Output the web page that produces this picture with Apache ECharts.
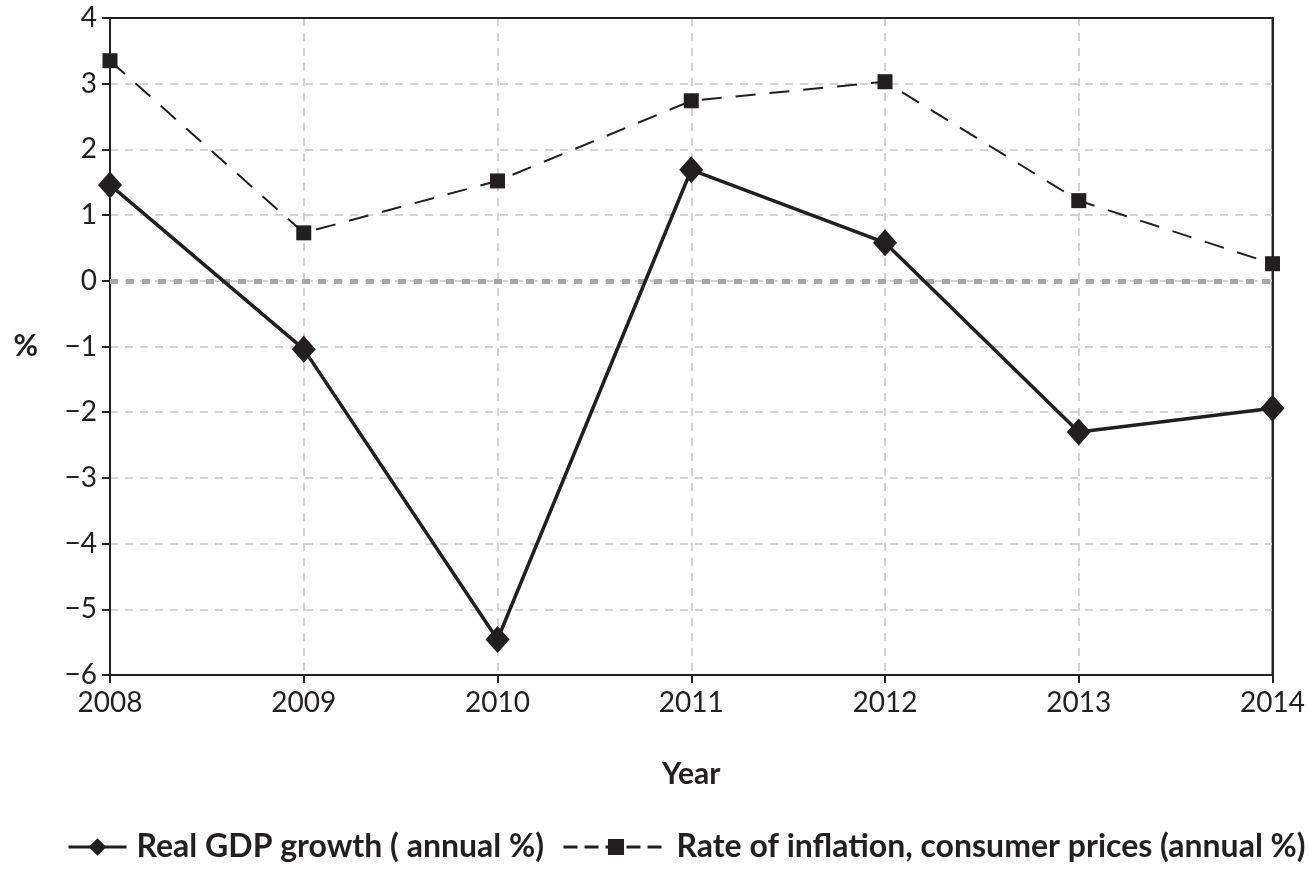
<!DOCTYPE html>
<html>
<head>
<meta charset="utf-8">
<script src="https://cdn.jsdelivr.net/npm/echarts@6/dist/echarts.min.js"></script>
<style>
html,body{margin:0;padding:0;background:#fff;}
#main{width:1308px;height:870px;}
</style>
</head>
<body>
<div id="main"></div>
<script>
const years = ['2008','2009','2010','2011','2012','2013','2014'];
const gdpGrowth = [1.46, -1.04, -5.46, 1.69, 0.58, -2.30, -1.94];
const inflation = [3.35, 0.73, 1.52, 2.74, 3.03, 1.22, 0.26];
const seriesNames = ['Real GDP growth ( annual %)', 'Rate of inflation, consumer prices (annual %)'];

const FONT = 'Lato';
const INK = '#231f20';
const GRID_LINE = {show: true, showMinLine: false, showMaxLine: false, lineStyle: {color: '#d1d3d4', width: 2, type: [8, 7]}};
const chart = echarts.init(document.getElementById('main'));
chart.setOption({
  animation: false,
  backgroundColor: '#fff',
  grid: {left: 110, right: 32, top: 18, bottom: 195, show: true, borderColor: INK, borderWidth: 2, backgroundColor: 'transparent'},
  xAxis: [{
    type: 'category', data: years, boundaryGap: false,
    name: 'Year', nameLocation: 'middle', nameGap: 84,
    nameTextStyle: {fontFamily: FONT, fontWeight: 'bold', fontSize: 30, color: INK},
    axisLine: {onZero: false, lineStyle: {color: INK, width: 2}},
    axisTick: {show: true, length: 8, lineStyle: {color: INK, width: 2}},
    axisLabel: {fontFamily: FONT, fontSize: 28, color: INK, margin: 14},
    splitLine: GRID_LINE
  }, {
    type: 'category', data: years, boundaryGap: false, position: 'top',
    axisLine: {onZero: false, lineStyle: {color: INK, width: 2}},
    axisTick: {show: false}, axisLabel: {show: false}, splitLine: {show: false}
  }],
  yAxis: [{
    type: 'value', min: -6, max: 4, interval: 1,
    name: '%', nameLocation: 'middle', nameGap: 72, nameRotate: 0,
    nameTextStyle: {fontFamily: FONT, fontWeight: 'bold', fontSize: 30, color: INK},
    axisLine: {show: true, onZero: false, lineStyle: {color: INK, width: 2}},
    axisTick: {show: true, length: 8, lineStyle: {color: INK, width: 2}},
    axisLabel: {fontFamily: FONT, fontSize: 28, color: INK, margin: 13,
      formatter: v => (v < 0 ? '\u2212' + Math.abs(v) : String(v))},
    splitLine: GRID_LINE
  }, {
    type: 'value', min: -6, max: 4, interval: 1, position: 'right',
    axisLine: {show: true, onZero: false, lineStyle: {color: INK, width: 2}},
    axisTick: {show: false}, axisLabel: {show: false}, splitLine: {show: false}
  }],
  legend: [{
    top: 826, left: 62, itemWidth: 58, itemHeight: 22, orient: 'horizontal',
    textStyle: {fontFamily: FONT, fontWeight: 'bold', fontSize: 32, color: INK, padding: [0, 0, 0, 5]},
    data: [{name: seriesNames[0], lineStyle: {width: 3, type: 'solid'}}]
  }, {
    top: 826, left: 557, itemWidth: 105, itemHeight: 20, orient: 'horizontal',
    textStyle: {fontFamily: FONT, fontWeight: 'bold', fontSize: 32, color: INK, padding: [0, 0, 0, 3]},
    data: [{name: seriesNames[1], lineStyle: {width: 3, type: [14, 7]}}]
  }],
  series: [
    {
      name: seriesNames[0], type: 'line', data: gdpGrowth,
      symbol: 'diamond', symbolSize: [24, 27],
      itemStyle: {color: INK},
      lineStyle: {color: INK, width: 3.5},
      z: 5,
      markLine: {
        silent: true, symbol: 'none', label: {show: false},
        lineStyle: {color: '#a7a9ac', width: 5, type: [8, 8]},
        emphasis: {disabled: true},
        data: [{yAxis: 0}], z: 1
      }
    },
    {
      name: seriesNames[1], type: 'line', data: inflation,
      symbol: 'rect', symbolSize: 15,
      itemStyle: {color: INK},
      lineStyle: {color: INK, width: 2, type: [20, 14]},
      z: 4
    }
  ]
});
</script>
</body>
</html>
